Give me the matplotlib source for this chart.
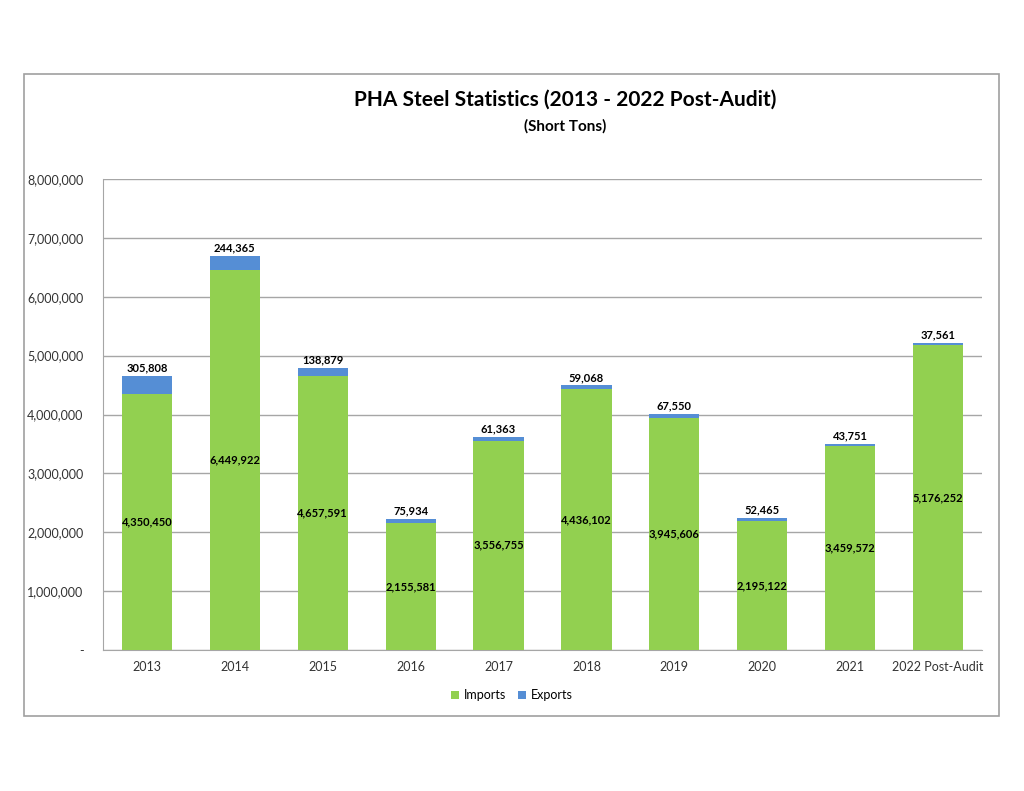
import matplotlib
matplotlib.use('Agg')
import matplotlib.pyplot as plt
from matplotlib.patches import Rectangle

plt.rcParams['font.family'] = ['Lato', 'DejaVu Sans']

# data
years = ['2013', '2014', '2015', '2016', '2017', '2018', '2019', '2020', '2021', '2022 Post-Audit']
imports = [4350450, 6449922, 4657591, 2155581, 3556755, 4436102, 3945606, 2195122, 3459572, 5176252]
exports = [305808, 244365, 138879, 75934, 61363, 59068, 67550, 52465, 43751, 37561]

green = '#92D050'
blue = '#558ED5'
grid = '#A6A6A6'

fig = plt.figure(figsize=(10.24, 7.91), dpi=100)
# outer chart frame
fig.patches.append(Rectangle((24 / 1024, 1 - 716 / 791), 975 / 1024, 642 / 791,
                             transform=fig.transFigure, fill=False,
                             edgecolor='#A0A0A0', linewidth=1.2))

ax = fig.add_axes([103 / 1024, 1 - 650 / 791, 879 / 1024, 471 / 791])
x = range(len(years))
w = 0.57
b1 = ax.bar(x, imports, width=w, color=green, label='Imports', zorder=3)
b2 = ax.bar(x, exports, width=w, bottom=imports, color=blue, label='Exports', zorder=3)

for i in x:
    ax.text(i, imports[i] / 2, f'{imports[i]:,}', ha='center', va='center',
            fontsize=8, fontweight='bold', zorder=4)
    ax.text(i, imports[i] + exports[i] + 40000, f'{exports[i]:,}', ha='center', va='bottom',
            fontsize=8, fontweight='bold', zorder=4)

ax.set_ylim(0, 8000000)
ax.set_xlim(-0.5, len(years) - 0.5)
ax.set_yticks(range(0, 8000001, 1000000))
ax.set_yticklabels(['-'] + [f'{v:,}' for v in range(1000000, 8000001, 1000000)])
ax.set_xticks(list(x))
ax.set_xticklabels(years)
ax.tick_params(axis='both', length=0, labelsize=9, colors='#333333')
ax.tick_params(axis='y', pad=14)
ax.tick_params(axis='x', pad=8)
ax.grid(axis='y', color=grid, linewidth=1, zorder=0)
for s in ['top', 'right']:
    ax.spines[s].set_visible(False)
ax.spines['left'].set_color(grid)
ax.spines['bottom'].set_color(grid)

fig.text(565 / 1024, 1 - 100 / 791, 'PHA Steel Statistics (2013 - 2022 Post-Audit)',
         ha='center', va='center', fontsize=15, fontweight='bold')
fig.text(565 / 1024, 1 - 126 / 791, '(Short Tons)', ha='center', va='center',
         fontsize=11, fontweight='bold')

fig.legend(handles=[b1, b2], loc='center', bbox_to_anchor=(512 / 1024, 1 - 695 / 791),
           ncol=2, frameon=False, fontsize=9, handlelength=0.6, handleheight=0.6,
           columnspacing=1.0, handletextpad=0.4)

fig.savefig('out.png', dpi=100, facecolor='white')
